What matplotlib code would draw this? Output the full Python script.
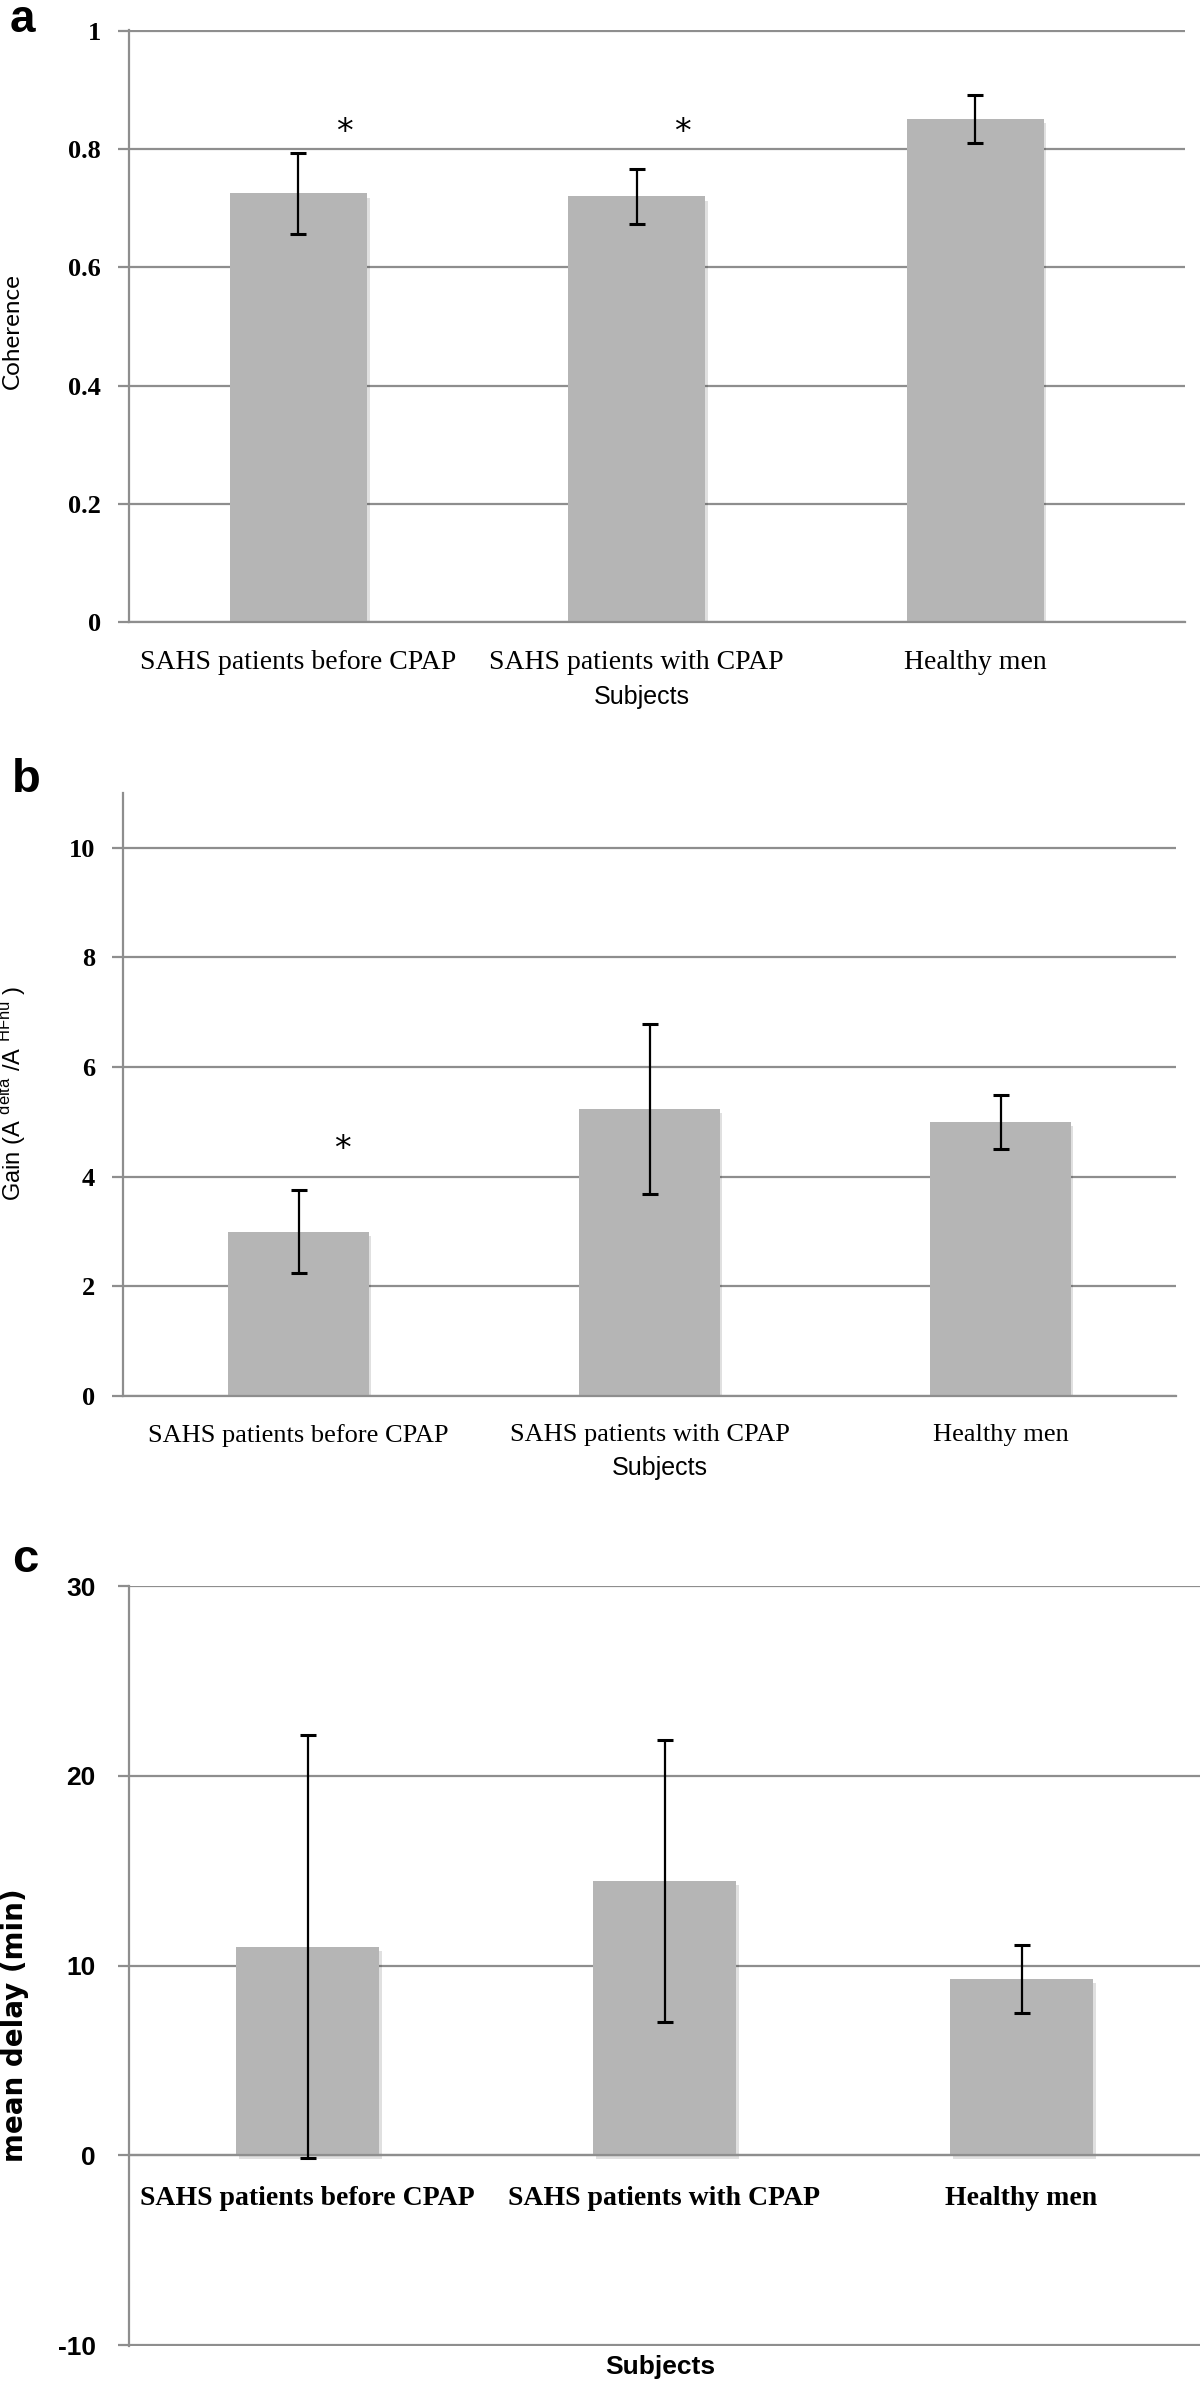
import matplotlib
matplotlib.use('Agg')
import matplotlib.pyplot as plt
import matplotlib.patheffects as pe
from matplotlib import font_manager

categories = ["SAHS patients before CPAP", "SAHS patients with CPAP", "Healthy men"]
coherence = [0.725, 0.72, 0.851]
coherence_err = [0.068, 0.046, 0.040]
gain = [3.0, 5.23, 5.0]
gain_err = [0.75, 1.55, 0.50]
delay = [11.0, 14.45, 9.3]
delay_err = [11.15, 7.45, 1.8]
coherence_ticks = [0, 0.2, 0.4, 0.6, 0.8, 1]
coherence_ticklabels = ["0", "0.2", "0.4", "0.6", "0.8", "1"]
gain_ticks = [0, 2, 4, 6, 8, 10]
delay_ticks = [-10, 0, 10, 20, 30]
coherence_sig = [0, 1]
gain_sig = [0]

names = {f.name for f in font_manager.fontManager.ttflist}
NARROW = 'Liberation Sans Narrow' if 'Liberation Sans Narrow' in names else 'Liberation Sans'
SERIF = 'Liberation Serif'

W, H = 1200, 2385
fig = plt.figure(figsize=(W / 100, H / 100), dpi=100)
GC = '#8e8e8e'
BAR = '#b5b5b5'


def ax_at(x0, x1, ytop, ybot):
    return fig.add_axes([x0 / W, 1 - ybot / H, (x1 - x0) / W, (ybot - ytop) / H])


def style(ax, pad):
    for s in ['top', 'right']:
        ax.spines[s].set_visible(False)
    for s in ['left', 'bottom']:
        ax.spines[s].set_color(GC)
        ax.spines[s].set_linewidth(1.6)
    ax.yaxis.grid(True, color=GC, lw=1.6)
    ax.set_axisbelow(True)
    ax.tick_params(axis='y', length=8, width=1.6, color=GC, pad=pad)
    ax.tick_params(axis='x', length=0)


shadow = [pe.SimplePatchShadow(offset=(2, -3), shadow_rgbFace='k', alpha=0.12), pe.Normal()]
xs = list(range(len(categories)))

# ---------------- panel a ----------------
axa = ax_at(129, 1185, 30, 622)
style(axa, 12)
bars = axa.bar(xs, coherence, width=0.405, color=BAR, zorder=2)
for b in bars:
    b.set_path_effects(shadow)
axa.errorbar(xs, coherence, yerr=coherence_err, fmt='none', ecolor='black',
             elinewidth=1.6, capsize=6, capthick=2.2, zorder=3)
axa.set_xlim(-0.5, 2.62)
axa.set_ylim(0, 1.0015)
axa.set_yticks(coherence_ticks)
axa.set_yticklabels(coherence_ticklabels, fontfamily=SERIF, fontweight='bold', fontsize=19)
axa.set_xticks(xs)
axa.set_xticklabels(categories, fontfamily=SERIF, fontsize=20)
axa.tick_params(axis='x', pad=20)
for i in coherence_sig:
    axa.text(xs[i] + 0.135, 0.828, '*', ha='center', va='center', fontsize=24,
             fontfamily='DejaVu Sans')
fig.text(12 / W, 1 - 331 / H, 'Coherence', rotation=90, ha='center', va='center',
         fontsize=17.5, fontfamily='Lato')
fig.text(642 / W, 1 - 697 / H, 'Subjects', ha='center', va='center', fontsize=18,
         fontfamily=NARROW)
fig.text(10 / W, 1 - 32 / H, 'a', ha='left', va='baseline', fontsize=33,
         fontweight='bold', fontfamily='Liberation Sans')

# ---------------- panel b ----------------
axb = ax_at(123, 1176, 793, 1396)
style(axb, 12)
bars = axb.bar(xs, gain, width=0.4, color=BAR, zorder=2)
for b in bars:
    b.set_path_effects(shadow)
axb.errorbar(xs, gain, yerr=gain_err, fmt='none', ecolor='black',
             elinewidth=1.6, capsize=6, capthick=2.2, zorder=3)
axb.set_xlim(-0.5, 2.5)
axb.set_ylim(0, 11)
axb.set_yticks(gain_ticks)
axb.set_yticklabels([str(t) for t in gain_ticks], fontfamily=SERIF, fontweight='bold', fontsize=19)
axb.set_xticks(xs)
axb.set_xticklabels(categories, fontfamily=SERIF, fontsize=19)
axb.tick_params(axis='x', pad=20)
for i in gain_sig:
    axb.text(xs[i] + 0.126, 4.5, '*', ha='center', va='center', fontsize=24,
             fontfamily='DejaVu Sans')
fig.text(13 / W, 1 - 1093 / H, r'Gain (A $^{\mathregular{delta}}$ /A $^{\mathregular{HFnu}}$ )',
         rotation=90, ha='center', va='center', fontsize=17, fontfamily='Liberation Sans')
fig.text(660 / W, 1 - 1468 / H, 'Subjects', ha='center', va='center', fontsize=18,
         fontfamily=NARROW)
fig.text(12 / W, 1 - 792 / H, 'b', ha='left', va='baseline', fontsize=34,
         fontweight='bold', fontfamily='Liberation Sans')

# ---------------- panel c ----------------
axc = ax_at(129, 1200, 1586, 2346)
style(axc, 16)
axc.spines['bottom'].set_position(('data', 0))
bars = axc.bar(xs, delay, width=0.4, color=BAR, zorder=2)
for b in bars:
    b.set_path_effects(shadow)
axc.errorbar(xs, delay, yerr=delay_err, fmt='none', ecolor='black',
             elinewidth=1.6, capsize=6, capthick=2.2, zorder=3)
axc.set_xlim(-0.5, 2.5)
axc.set_ylim(-10.05, 30)
axc.set_yticks(delay_ticks)
axc.set_yticklabels([str(t) for t in delay_ticks], fontfamily=NARROW, fontweight='bold', fontsize=19)
axc.set_xticks(xs)
axc.set_xticklabels(categories, fontfamily=SERIF, fontweight='bold', fontsize=20)
axc.tick_params(axis='x', pad=22)
fig.text(15 / W, 1 - 2025 / H, 'mean delay (min)', rotation=90, ha='center', va='center',
         fontsize=20, fontweight='bold', fontfamily='DejaVu Sans')
fig.text(660 / W, 1 - 2367 / H, 'Subjects', ha='center', va='center', fontsize=19,
         fontweight='bold', fontfamily=NARROW)
fig.text(12 / W, 1 - 1572 / H, 'c', ha='left', va='baseline', fontsize=34,
         fontweight='bold', fontfamily='Liberation Sans')

fig.savefig('out.png', dpi=100, facecolor='white')
